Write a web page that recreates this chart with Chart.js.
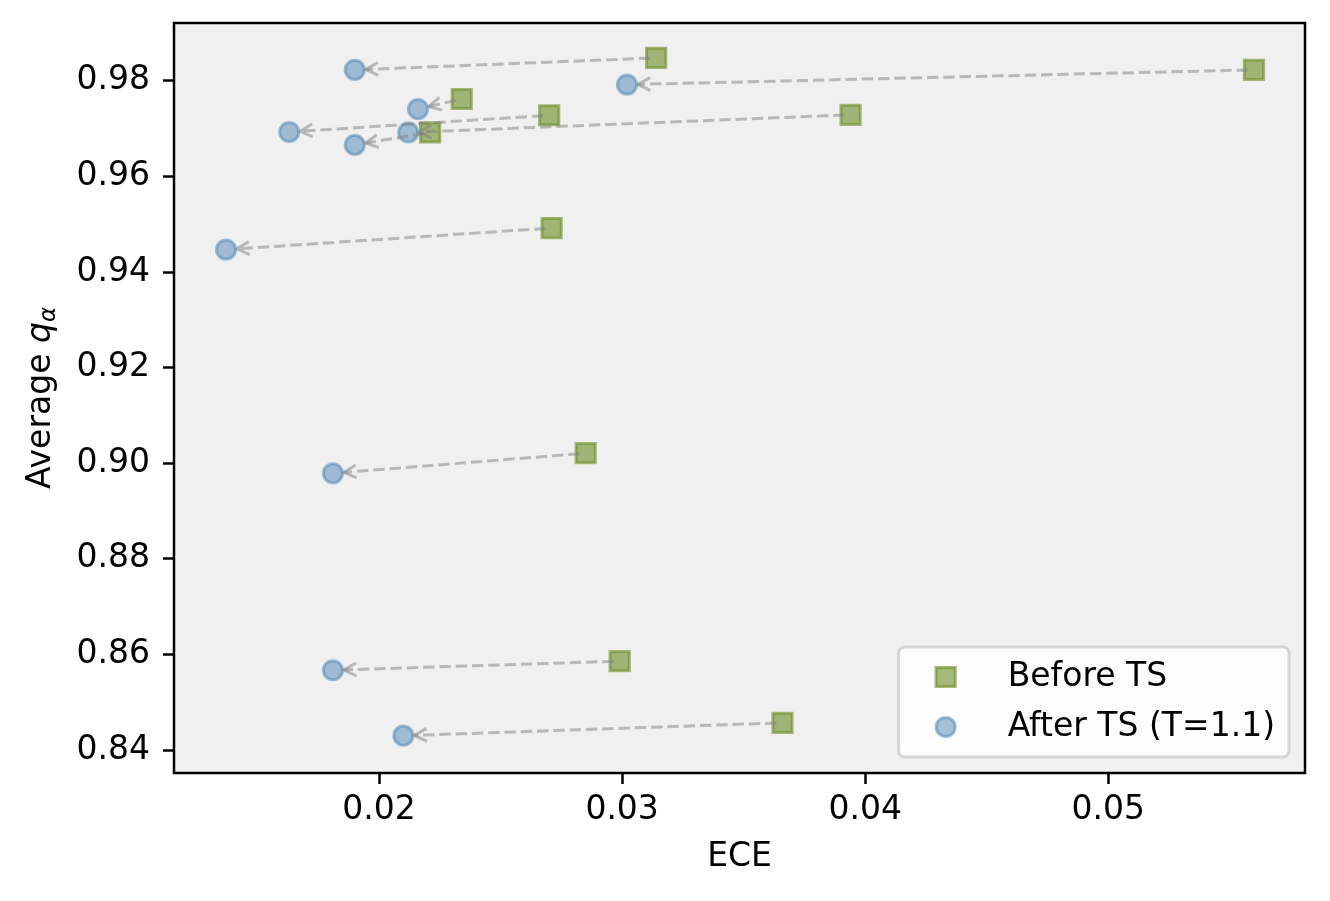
<!DOCTYPE html>
<html>
<head>
<meta charset="utf-8">
<script src="https://cdn.jsdelivr.net/npm/chart.js@4/dist/chart.umd.min.js"></script>
<style>
  body { margin: 0; background: #fff; }
  canvas { display: block; }
</style>
</head>
<body>
<canvas id="c" width="1330" height="901"></canvas>
<script>
// Datos: ECE y q_alpha promedio antes y despues de TS
const beforeEce = [0.0314, 0.0560, 0.0234, 0.0270, 0.0394, 0.0221, 0.0271, 0.0285, 0.0299, 0.0366];
const beforeQ   = [0.9848, 0.9823, 0.9762, 0.9728, 0.9729, 0.9692, 0.9492, 0.9021, 0.8586, 0.8457];
const afterEce  = [0.0190, 0.0302, 0.0216, 0.0163, 0.0212, 0.0190, 0.0137, 0.0181, 0.0181, 0.0210];
const afterQ    = [0.9823, 0.9792, 0.9741, 0.9693, 0.9692, 0.9666, 0.9447, 0.8979, 0.8567, 0.8430];

const xTicks = [0.02, 0.03, 0.04, 0.05];
const yTicks = [0.84, 0.86, 0.88, 0.90, 0.92, 0.94, 0.96, 0.98];

const FONT = 'DejaVu Sans';
const FS = 33;

Chart.defaults.font.family = FONT;
Chart.defaults.color = '#000';

const toPoints = (xs, ys) => xs.map((v, i) => ({ x: v, y: ys[i] }));

// fondo del area y marco
const framePlugin = {
  id: 'frame',
  beforeDraw(chart) {
    const { ctx, chartArea: a } = chart;
    ctx.save();
    ctx.fillStyle = '#fff';
    ctx.fillRect(0, 0, chart.width, chart.height);
    ctx.fillStyle = '#f0f0f0';
    ctx.fillRect(a.left, a.top, a.right - a.left, a.bottom - a.top);
    ctx.restore();
  },
  afterDraw(chart) {
    const { ctx, chartArea: a } = chart;
    ctx.save();
    ctx.strokeStyle = '#000';
    ctx.lineWidth = 2.5;
    ctx.strokeRect(a.left, a.top, a.right - a.left, a.bottom - a.top);

    // titulos de ejes
    ctx.fillStyle = '#000';
    ctx.font = FS + 'px "' + FONT + '"';
    ctx.textAlign = 'center';
    ctx.textBaseline = 'middle';
    ctx.fillText('ECE', (a.left + a.right) / 2, 857);

    const p1 = 'Average ';
    ctx.font = FS + 'px "' + FONT + '"';
    const w1 = ctx.measureText(p1).width;
    ctx.font = 'italic ' + FS + 'px "' + FONT + '"';
    const w2 = ctx.measureText('q').width;
    ctx.font = 'italic ' + Math.round(FS * 0.7) + 'px "' + FONT + '"';
    const w3 = ctx.measureText('α').width;
    const total = w1 + w2 + w3;
    ctx.translate(50, (a.top + a.bottom) / 2);
    ctx.rotate(-Math.PI / 2);
    ctx.textAlign = 'left';
    ctx.textBaseline = 'alphabetic';
    let x0 = -total / 2;
    ctx.font = FS + 'px "' + FONT + '"';
    ctx.fillText(p1, x0, 0);
    x0 += w1;
    ctx.font = 'italic ' + FS + 'px "' + FONT + '"';
    ctx.fillText('q', x0, 0);
    x0 += w2;
    ctx.font = 'italic ' + Math.round(FS * 0.7) + 'px "' + FONT + '"';
    ctx.fillText('α', x0, 5);
    ctx.restore();

    drawLegend(chart);
  }
};

// flechas discontinuas de antes -> despues
const arrowPlugin = {
  id: 'arrows',
  afterDatasetsDraw(chart) {
    const { ctx, scales: { x, y } } = chart;
    ctx.save();
    ctx.strokeStyle = 'rgba(128,128,128,0.5)';
    ctx.lineWidth = 3;
    for (let i = 0; i < beforeEce.length; i++) {
      const x0 = x.getPixelForValue(beforeEce[i]);
      const y0 = y.getPixelForValue(beforeQ[i]);
      const x1 = x.getPixelForValue(afterEce[i]);
      const y1 = y.getPixelForValue(afterQ[i]);
      const len = Math.hypot(x1 - x0, y1 - y0);
      const dx = (x1 - x0) / len, dy = (y1 - y0) / len;
      const sx = x0 + dx * 6, sy = y0 + dy * 6;
      const ex = x1 - dx * 11, ey = y1 - dy * 11;
      ctx.setLineDash([11.4, 4.9]);
      ctx.lineCap = 'butt';
      ctx.beginPath();
      ctx.moveTo(sx, sy);
      ctx.lineTo(ex, ey);
      ctx.stroke();
      // punta abierta
      ctx.setLineDash([]);
      const hl = 12.3, hw = 6.5;
      const bx = ex - dx * hl, by = ey - dy * hl;
      ctx.beginPath();
      ctx.moveTo(bx - dy * hw, by + dx * hw);
      ctx.lineTo(ex, ey);
      ctx.lineTo(bx + dy * hw, by - dx * hw);
      ctx.stroke();
    }
    ctx.restore();
  }
};

function drawMarker(ctx, ds, cx, cy) {
  ctx.save();
  ctx.fillStyle = ds.backgroundColor;
  ctx.strokeStyle = ds.borderColor;
  ctx.lineWidth = ds.borderWidth;
  ctx.beginPath();
  if (ds.pointStyle === 'rect') {
    const h = Math.SQRT1_2 * ds.pointRadius;
    ctx.rect(cx - h, cy - h, 2 * h, 2 * h);
  } else {
    ctx.arc(cx, cy, ds.pointRadius, 0, Math.PI * 2);
  }
  ctx.fill();
  ctx.stroke();
  ctx.restore();
}

function drawLegend(chart) {
  const { ctx, chartArea: a } = chart;
  const right = a.right - 16, bottom = a.bottom - 16;
  ctx.save();
  ctx.font = FS + 'px "' + FONT + '"';
  const sets = chart.data.datasets;
  const tw = Math.max(...sets.map(d => ctx.measureText(d.label).width));
  const textX = right - 14 - tw;
  const left = textX - 109;
  const top = bottom - 110;
  const r = 6;
  ctx.beginPath();
  ctx.moveTo(left + r, top);
  ctx.arcTo(right, top, right, bottom, r);
  ctx.arcTo(right, bottom, left, bottom, r);
  ctx.arcTo(left, bottom, left, top, r);
  ctx.arcTo(left, top, right, top, r);
  ctx.closePath();
  ctx.fillStyle = 'rgba(255,255,255,0.8)';
  ctx.fill();
  ctx.strokeStyle = 'rgba(204,204,204,0.8)';
  ctx.lineWidth = 3;
  ctx.stroke();
  sets.forEach((d, i) => {
    const cy = bottom - 80 + i * 50;
    drawMarker(ctx, d, textX - 62, cy);
    ctx.fillStyle = '#000';
    ctx.textAlign = 'left';
    ctx.textBaseline = 'middle';
    ctx.fillText(d.label, textX, cy);
  });
  ctx.restore();
}

const tickOpts = {
  font: { size: FS, family: FONT },
  color: '#000',
  callback: v => v.toFixed(2)
};
const gridOpts = {
  display: true,
  drawOnChartArea: false,
  drawTicks: true,
  tickLength: 11,
  tickWidth: 2.5,
  tickColor: '#000'
};

new Chart(document.getElementById('c'), {
  type: 'scatter',
  data: {
    datasets: [
      {
        label: 'Before TS',
        data: toPoints(beforeEce, beforeQ),
        pointStyle: 'rect',
        pointRadius: 13.6,
        borderWidth: 3,
        backgroundColor: 'rgba(107,142,35,0.6)',
        borderColor: 'rgba(107,142,35,0.6)'
      },
      {
        label: 'After TS (T=1.1)',
        data: toPoints(afterEce, afterQ),
        pointStyle: 'circle',
        pointRadius: 9.6,
        borderWidth: 3,
        backgroundColor: 'rgba(70,130,180,0.48)',
        borderColor: 'rgba(70,130,180,0.5)'
      }
    ]
  },
  options: {
    responsive: false,
    devicePixelRatio: 1,
    animation: false,
    events: [],
    layout: { padding: { top: 23, right: 25, left: 0, bottom: 0 } },
    plugins: {
      legend: { display: false },
      tooltip: { enabled: false }
    },
    scales: {
      x: {
        type: 'linear',
        min: 0.01156,
        max: 0.0581,
        afterBuildTicks: s => { s.ticks = xTicks.map(v => ({ value: v })); },
        afterFit: s => { s.height = 128; s.paddingLeft = 0; s.paddingRight = 0; },
        ticks: { ...tickOpts, padding: 7, maxRotation: 0 },
        grid: gridOpts,
        border: { display: false }
      },
      y: {
        type: 'linear',
        min: 0.8352,
        max: 0.9921,
        afterBuildTicks: s => { s.ticks = yTicks.map(v => ({ value: v })); },
        afterFit: s => { s.width = 174; s.paddingTop = 0; s.paddingBottom = 0; },
        ticks: { ...tickOpts, padding: 13 },
        grid: gridOpts,
        border: { display: false }
      }
    }
  },
  plugins: [framePlugin, arrowPlugin]
});
</script>
</body>
</html>
